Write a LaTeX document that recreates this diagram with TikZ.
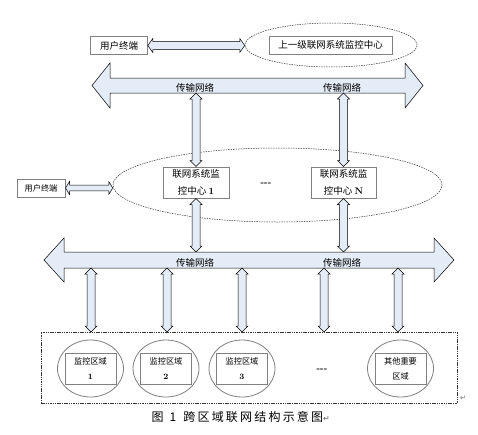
\documentclass[tikz,border=0pt]{standalone}
\usepackage{fontspec}
\newfontfamily\cjk{Noto Sans CJK SC}
\newfontfamily\dejavu{DejaVu Sans}
\usetikzlibrary{shapes.geometric,calc}
\definecolor{arrfill}{HTML}{E4ECF7}
\definecolor{boxgray}{HTML}{808080}
\tikzset{
  blockarr/.style={draw=black, line width=0.5pt, fill=arrfill, line join=miter},
  greybox/.style={draw=boxgray, line width=1pt, fill=white, align=center, inner sep=0pt,
    font=\cjk\fontsize{9.5}{17}\selectfont},
  smallbox/.style={draw=boxgray, line width=1pt, fill=white, align=center, inner sep=0pt,
    font=\cjk\fontsize{8.2}{15}\selectfont},
  dashell/.style={ellipse, draw=black!80, line width=0.5pt, dash pattern=on 1.5pt off 1pt, inner sep=0pt},
  regell/.style={ellipse, draw=boxgray, line width=0.8pt, inner sep=0pt, minimum width=66pt, minimum height=57pt},
  netlabel/.style={font=\cjk\fontsize{9.5}{11}\selectfont, inner sep=0pt},
  dotslabel/.style={font=\bfseries\fontsize{9}{10}\selectfont, inner sep=0pt},
  frame/.style={draw=black!80, line width=0.6pt, dash pattern=on 1.5pt off 0.8pt},
}
% vertical double block arrow from top coordinate #1 to bottom coordinate #2 (same x as #1)
\newcommand\vdarr[2]{%
  \draw[blockarr] let \p1=(#1), \p2=(#2) in
    (\x1,\y1) -- (\x1+6pt,\y1-6pt) -- (\x1+4pt,\y1-6pt) -- (\x1+4pt,\y2+6pt)
    -- (\x1+6pt,\y2+6pt) -- (\x1,\y2) -- (\x1-6pt,\y2+6pt) -- (\x1-4pt,\y2+6pt)
    -- (\x1-4pt,\y1-6pt) -- (\x1-6pt,\y1-6pt) -- cycle;}
% horizontal double block arrow from #1 (left) to #2 (right); #3 head length, #4 head half width, #5 shaft half width
\newcommand\hdarr[5]{%
  \draw[blockarr] let \p1=(#1), \p2=(#2) in
    (\x1,\y1) -- (\x1+#3,\y1+#4) -- (\x1+#3,\y1+#5) -- (\x2-#3,\y1+#5)
    -- (\x2-#3,\y1+#4) -- (\x2,\y1) -- (\x2-#3,\y1-#4) -- (\x2-#3,\y1-#5)
    -- (\x1+#3,\y1-#5) -- (\x1+#3,\y1-#4) -- cycle;}
\begin{document}
\begin{tikzpicture}[x=1pt,y=-1pt]
\useasboundingbox[fill=white] (0,0) rectangle (478,434);

% ---------- top level ----------
\node[dashell, minimum width=172pt, minimum height=44pt] (ell1) at (331,45) {};
\node[greybox, minimum width=123pt, minimum height=18pt] (sup) at (330.5,45) {上一级联网系统监控中心};
\node[greybox, minimum width=56.6pt, minimum height=17.6pt] (ut1) at (119,45.5) {用户终端};
\hdarr{ut1.east}{ell1.west}{5pt}{7pt}{4pt}

% ---------- transmission network 1 ----------
\coordinate (net1L) at (92,85.5);
\coordinate (net1R) at (423,85.5);
\hdarr{net1L}{net1R}{18pt}{22.5pt}{7.5pt}
\node[netlabel] (lab1a) at (195,88) {传输网络};
\node[netlabel] (lab1b) at (342,88) {传输网络};

% ---------- monitoring centres ----------
\node[dashell, minimum width=329pt, minimum height=74pt] (ell2) at (277.5,185) {};
\node[greybox, minimum width=66pt, minimum height=31pt] (c1) at (196,182.5) {联网系统监\\控中心 {\rmfamily\bfseries 1}};
\node[greybox, minimum width=65pt, minimum height=31pt] (cN) at (343.5,182.5) {联网系统监\\控中心 {\rmfamily\bfseries N}};
\node[dotslabel] (cdots) at (266,184) {-{}-{}-};
\node[smallbox, minimum width=48pt, minimum height=18pt] (ut2) at (41,188) {用户终端};
\hdarr{ut2.east}{ell2.west}{4pt}{6.5pt}{2.8pt}

\coordinate (n1a) at (196,93);
\coordinate (n1b) at (343.5,93);
\vdarr{n1a}{c1.north}
\vdarr{n1b}{cN.north}

% ---------- transmission network 2 ----------
\coordinate (net2L) at (44,260);
\coordinate (net2R) at (454,260);
\coordinate (n2a) at (196,252);
\coordinate (n2b) at (343.5,252);
\vdarr{c1.south}{n2a}
\vdarr{cN.south}{n2b}
\hdarr{net2L}{net2R}{20pt}{22pt}{8pt}
\node[netlabel] (lab2a) at (195,262.5) {传输网络};
\node[netlabel] (lab2b) at (342,262.5) {传输网络};

% ---------- monitored regions ----------
\node[frame, draw, minimum width=416pt, minimum height=71pt, inner sep=0pt] (zone) at (249,367.5) {};
\foreach \i/\x in {1/91,2/167,3/242,4/324,5/398}{
  \coordinate (t\i) at (\x,268);
  \coordinate (b\i) at (\x,332);
  \vdarr{t\i}{b\i}
}
\node[regell] (e1) at (90.5,368.5) {};
\node[regell] (e2) at (166,368.5) {};
\node[regell] (e3) at (242,368.5) {};
\node[regell] (e4) at (400.5,368.5) {};
\node[smallbox, minimum width=51pt, minimum height=31pt] (r1) at (90.5,368.5) {监控区域\\{\rmfamily\bfseries 1}};
\node[smallbox, minimum width=51pt, minimum height=31pt] (r2) at (166,368.5) {监控区域\\{\rmfamily\bfseries 2}};
\node[smallbox, minimum width=51pt, minimum height=31pt] (r3) at (242,368.5) {监控区域\\{\rmfamily\bfseries 3}};
\node[smallbox, minimum width=51pt, minimum height=31pt] (r4) at (400.5,368.5) {其他重要\\区域};
\node[dotslabel] (rdots) at (322,370) {-{}-{}-};
\node[font=\dejavu\fontsize{7}{8}\selectfont, text=black!60, inner sep=0pt] (pm1) at (463,398) {↵};

% ---------- caption ----------
\node[anchor=west, inner sep=0pt, font=\cjk\fontsize{12}{14}\selectfont] (cap) at (151.5,417)
  {图\hspace{6pt}1\hspace{7pt}跨\hspace{2.2pt}区\hspace{2.2pt}域\hspace{2.2pt}联\hspace{2.2pt}网\hspace{2.2pt}结\hspace{2.2pt}构\hspace{2.2pt}示\hspace{2.2pt}意\hspace{2.2pt}图{\dejavu\fontsize{8}{9}\selectfont\color{black!60}↵}};
\end{tikzpicture}
\end{document}
